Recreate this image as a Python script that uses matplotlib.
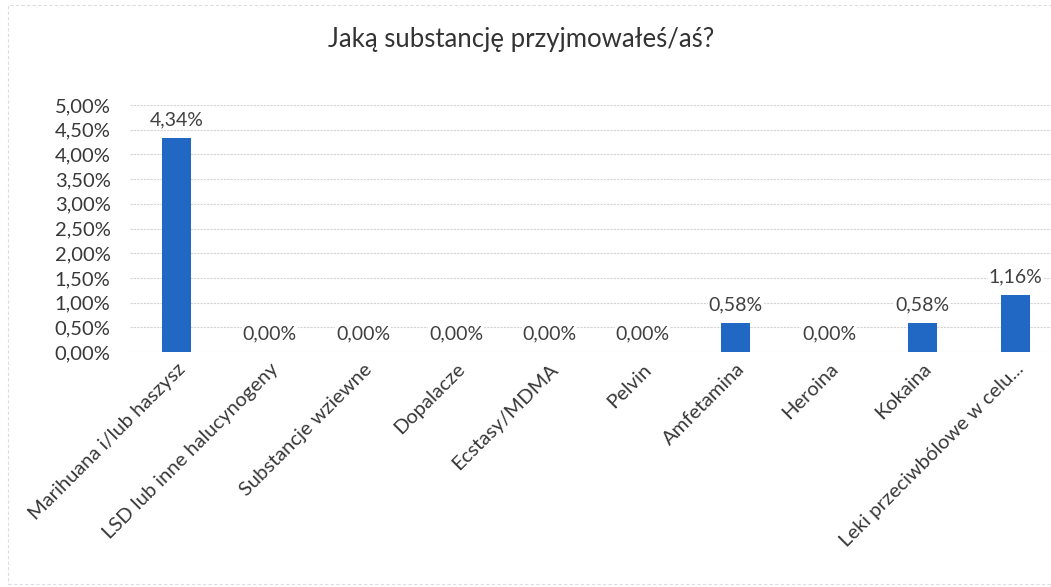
import numpy as np
import matplotlib
matplotlib.use("Agg")
import matplotlib.pyplot as plt
from matplotlib.patches import Rectangle

plt.rcParams['font.family'] = ['Lato', 'DejaVu Sans']

categories = ["Marihuana i/lub haszysz", "LSD lub inne halucynogeny", "Substancje wziewne",
              "Dopalacze", "Ecstasy/MDMA", "Pelvin", "Amfetamina", "Heroina", "Kokaina",
              "Leki przeciwbólowe w celu..."]
values = [4.34, 0.00, 0.00, 0.00, 0.00, 0.00, 0.58, 0.00, 0.58, 1.16]
yticks = [0, 0.5, 1, 1.5, 2, 2.5, 3, 3.5, 4, 4.5, 5]

fig = plt.figure(figsize=(10.51, 5.87), dpi=100)
W, H = 1051, 587
# axes: x 130 -> 1062 (cropped at image edge), y 352 -> 105
ax = fig.add_axes([130 / W, 1 - 352 / H, (W - 130) / W, (352 - 105) / H])

x = np.arange(len(categories))
step = (1062 - 130) / 10
ax.bar(x, values, width=29 / step, color='#2068c4', zorder=3)
ax.set_xlim(-0.5, -0.5 + (W - 130) / step)
ax.set_ylim(0, 5)

ax.set_yticks(yticks)
ax.set_yticklabels([f"{v:.2f}%".replace('.', ',') for v in yticks], fontsize=14.5, color='#383838')
ax.grid(axis='y', color='#d4d4d4', lw=0.8, ls=(0, (2, 1)), zorder=0)
ax.tick_params(axis='y', length=0, pad=14)
ax.tick_params(axis='x', length=0, pad=6)
ax.set_xticks(x)
ax.set_xticklabels(categories, rotation=45, ha='right', rotation_mode='anchor', fontsize=14.5, color='#383838')
for s in ax.spines.values():
    s.set_visible(False)

for xi, v in zip(x, values):
    ax.annotate(f"{v:.2f}%".replace('.', ','), (xi, v), xytext=(0, 7), textcoords='offset points',
                ha='center', va='bottom', fontsize=14, color='#404040', zorder=4,
                bbox=dict(facecolor='white', edgecolor='none', pad=0.5))

fig.text(521 / W, 1 - 40 / H, "Jaką substancję przyjmowałeś/aś?", ha='center', va='center',
         fontsize=18.5, color='#333333')

fig.patches.append(Rectangle((8 / W, 0.005), 1.2, 1 - 5 / H - 0.005, transform=fig.transFigure,
                             fill=False, edgecolor='#dddddd', lw=0.8, ls=(0, (3, 2))))

fig.savefig("out.png", dpi=100)
